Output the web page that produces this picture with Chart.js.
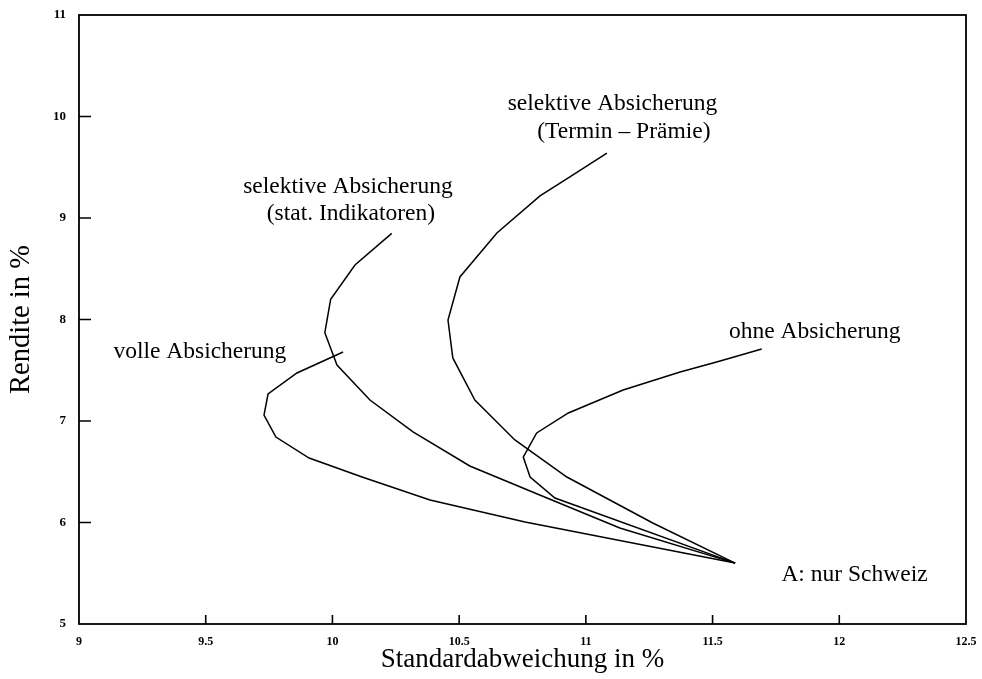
<!DOCTYPE html>
<html>
<head>
<meta charset="utf-8">
<script src="https://cdn.jsdelivr.net/npm/chart.js@4/dist/chart.umd.min.js"></script>
<style>
  html, body { margin: 0; padding: 0; background: #fff; }
  #wrap { width: 982px; height: 679px; }
</style>
</head>
<body>
<div id="wrap"><canvas id="c" width="982" height="679"></canvas></div>
<script>
// Efficient frontiers: standard deviation (x, %) against return (y, %)
const ohneSd      = [11.694, 11.516, 11.372, 11.147, 10.931, 10.806, 10.753, 10.780, 10.878, 11.589];
const ohneRet     = [7.709, 7.581, 7.483, 7.305, 7.079, 6.882, 6.645, 6.448, 6.241, 5.600];

const volleSd     = [10.042, 9.860, 9.746, 9.730, 9.777, 9.908, 10.117, 10.385, 10.760, 11.589];
const volleRet    = [7.680, 7.473, 7.266, 7.059, 6.842, 6.635, 6.448, 6.222, 6.005, 5.600];

const statSd      = [10.234, 10.089, 9.993, 9.970, 10.018, 10.148, 10.318, 10.542, 10.818, 11.134, 11.589];
const statRet     = [8.849, 8.537, 8.199, 7.870, 7.552, 7.207, 6.892, 6.557, 6.271, 5.946, 5.600];

const terminSd    = [11.083, 10.937, 10.819, 10.649, 10.503, 10.456, 10.475, 10.562, 10.720, 10.925, 11.264, 11.589];
const terminRet   = [9.640, 9.404, 9.217, 8.852, 8.419, 7.995, 7.621, 7.207, 6.813, 6.448, 5.995, 5.600];

const xTicks = [9, 9.5, 10, 10.5, 11, 11.5, 12, 12.5];
const yTicks = [5, 6, 7, 8, 9, 10, 11];

const xTitle = 'Standardabweichung in %';
const yTitle = 'Rendite in %';

// Curve captions, anchored in data units (centre of each text line)
const captions = [
  { text: 'selektive Absicherung', x: 11.105, y: 10.125 },
  { text: '(Termin – Prämie)',     x: 11.150, y: 9.845 },
  { text: 'selektive Absicherung', x: 10.061, y: 9.310 },
  { text: '(stat. Indikatoren)',   x: 10.073, y: 9.045 },
  { text: 'volle Absicherung',     x: 9.477,  y: 7.680 },
  { text: 'ohne Absicherung',      x: 11.903, y: 7.877 },
  { text: 'A: nur Schweiz',        x: 12.060, y: 5.483 }
];

const SERIF = '"Liberation Serif", "DejaVu Serif", serif';

function pts(xs, ys) { return xs.map((v, i) => ({ x: v, y: ys[i] })); }

function line(label, xs, ys) {
  return {
    label,
    data: pts(xs, ys),
    showLine: true,
    borderColor: '#000',
    borderWidth: 1.5,
    pointRadius: 0,
    tension: 0,
    fill: false
  };
}

// Frame, inward tick marks, axis titles and curve captions
const decor = {
  id: 'decor',
  afterDraw(chart) {
    const { ctx, chartArea: a, scales } = chart;
    ctx.save();
    ctx.strokeStyle = '#000';
    ctx.lineWidth = 1.8;
    ctx.strokeRect(a.left, a.top, a.right - a.left, a.bottom - a.top);

    ctx.lineWidth = 1.6;
    ctx.beginPath();
    xTicks.forEach(v => {
      if (v === xTicks[0] || v === xTicks[xTicks.length - 1]) return;
      const px = scales.x.getPixelForValue(v);
      ctx.moveTo(px, a.bottom);
      ctx.lineTo(px, a.bottom - 9);
    });
    yTicks.forEach(v => {
      if (v === yTicks[0] || v === yTicks[yTicks.length - 1]) return;
      const py = scales.y.getPixelForValue(v);
      ctx.moveTo(a.left, py);
      ctx.lineTo(a.left + 12, py);
    });
    ctx.stroke();

    ctx.fillStyle = '#000';
    ctx.textAlign = 'center';
    ctx.textBaseline = 'middle';
    ctx.font = '27px ' + SERIF;
    ctx.fillText(xTitle, (a.left + a.right) / 2, 660);
    ctx.save();
    ctx.font = '28.5px ' + SERIF;
    ctx.translate(22, (a.top + a.bottom) / 2);
    ctx.rotate(-Math.PI / 2);
    ctx.fillText(yTitle, 0, 0);
    ctx.restore();

    ctx.font = '23.5px ' + SERIF;
    captions.forEach(c => {
      ctx.fillText(c.text, scales.x.getPixelForValue(c.x), scales.y.getPixelForValue(c.y));
    });
    ctx.restore();
  }
};

new Chart(document.getElementById('c'), {
  type: 'scatter',
  data: {
    datasets: [
      line('ohne Absicherung', ohneSd, ohneRet),
      line('volle Absicherung', volleSd, volleRet),
      line('selektive Absicherung (stat. Indikatoren)', statSd, statRet),
      line('selektive Absicherung (Termin-Prämie)', terminSd, terminRet)
    ]
  },
  options: {
    responsive: false,
    animation: false,
    layout: { padding: { top: 15, right: 16, left: 0, bottom: 0 } },
    plugins: { legend: { display: false }, tooltip: { enabled: false } },
    scales: {
      x: {
        type: 'linear',
        min: 9, max: 12.5,
        afterFit(s) { s.height = 55; s.paddingLeft = 0; s.paddingRight = 0; },
        afterBuildTicks(s) { s.ticks = xTicks.map(v => ({ value: v })); },
        grid: { display: false, drawTicks: false },
        border: { display: false },
        ticks: {
          padding: 11,
          color: '#000',
          font: { family: SERIF, size: 12, weight: 'bold' },
          maxRotation: 0,
          autoSkip: false,
          callback: v => String(v)
        }
      },
      y: {
        type: 'linear',
        min: 5, max: 11,
        afterFit(s) { s.width = 79; s.paddingTop = 0; s.paddingBottom = 0; },
        afterBuildTicks(s) { s.ticks = yTicks.map(v => ({ value: v })); },
        grid: { display: false, drawTicks: false },
        border: { display: false },
        ticks: {
          padding: 13,
          color: '#000',
          font: { family: SERIF, size: 13, weight: 'bold' },
          autoSkip: false,
          callback: v => String(v)
        }
      }
    }
  },
  plugins: [decor]
});
</script>
</body>
</html>
